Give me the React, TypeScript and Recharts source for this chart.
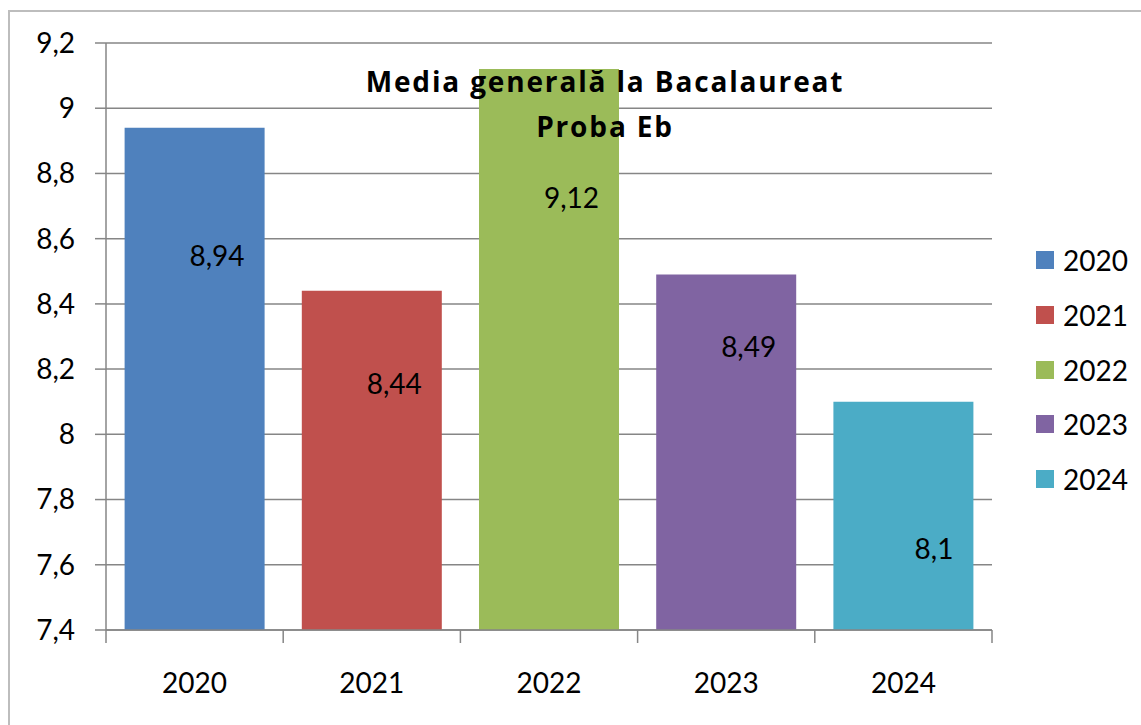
import React from 'react';
import { BarChart, Bar, XAxis, YAxis, CartesianGrid, Cell, LabelList } from 'recharts';

const years = ['2020', '2021', '2022', '2023', '2024'];
const averages = [8.94, 8.44, 9.12, 8.49, 8.1];
const yTicks = [7.4, 7.6, 7.8, 8, 8.2, 8.4, 8.6, 8.8, 9, 9.2];
const titleLines = ['Media generală la Bacalaureat', 'Proba Eb'];

const COLORS = ['#4F81BD', '#C0504D', '#9BBB59', '#8064A2', '#4BACC6'];
// label offsets from bar top (labels were placed by hand in the original)
const LABEL_DY = [127, 92, 128, 71, 146];

const FONT = 'Lato, "Open Sans", sans-serif';
const GRID = '#868686';
const W = 1141;
const H = 725;
const PLOT_LEFT = 106;
const PLOT_RIGHT = 992;
const BAND = (PLOT_RIGHT - PLOT_LEFT) / years.length;

const data = years.map((year, i) => ({ year, value: averages[i] }));

const fmt = (v: number) => String(v).replace('.', ',');

const XTick = (props: any) => {
  const { x, y, payload, index } = props;
  const left = x - BAND / 2;
  return (
    <g>
      <line x1={left} y1={y} x2={left} y2={y + 13} stroke={GRID} strokeWidth={1.5} />
      {index === years.length - 1 && (
        <line x1={x + BAND / 2} y1={y} x2={x + BAND / 2} y2={y + 13} stroke={GRID} strokeWidth={1.5} />
      )}
      <text x={x} y={y + 63} textAnchor="middle" fontSize={28} fontFamily={FONT} fill="#000">
        {payload.value}
      </text>
    </g>
  );
};

const ValueLabel = (props: any) => {
  const { x, y, width, value, index } = props;
  return (
    <text
      x={x + width - 20}
      y={y + LABEL_DY[index]}
      textAnchor="end"
      dominantBaseline="central"
      fontSize={28}
      fontFamily={FONT}
      fill="#000"
    >
      {fmt(value)}
    </text>
  );
};

export default function App() {
  return (
    <div style={{ position: 'absolute', left: 0, top: 0, width: W, height: H, background: '#fff', overflow: 'hidden' }}>
      <div
        style={{
          position: 'absolute',
          left: 8,
          top: 10,
          width: W,
          height: H,
          borderLeft: '2px solid #BDBDBD',
          borderTop: '2px solid #BDBDBD',
        }}
      />
      <div style={{ position: 'absolute', left: 0, top: 0 }}>
        <BarChart
          width={W}
          height={H}
          data={data}
          margin={{ top: 43, right: W - PLOT_RIGHT, bottom: 35, left: 0 }}
          barCategoryGap="10.5%"
        >
          <CartesianGrid vertical={false} stroke={GRID} strokeWidth={1.5} />
          <XAxis
            dataKey="year"
            height={60}
            axisLine={{ stroke: GRID, strokeWidth: 1.5 }}
            tickLine={false}
            tickSize={0}
            tickMargin={0}
            tick={<XTick />}
            interval={0}
          />
          <YAxis
            width={PLOT_LEFT}
            domain={[7.4, 9.2]}
            ticks={yTicks}
            interval={0}
            tickFormatter={fmt}
            tickSize={11}
            tickMargin={20}
            axisLine={{ stroke: GRID, strokeWidth: 1.5 }}
            tickLine={{ stroke: GRID, strokeWidth: 1.5 }}
            tick={{ fontSize: 28, fontFamily: FONT, fill: '#000' }}
          />
          <Bar dataKey="value" isAnimationActive={false}>
            {data.map((d, i) => (
              <Cell key={d.year} fill={COLORS[i]} />
            ))}
            <LabelList dataKey="value" content={<ValueLabel />} />
          </Bar>
        </BarChart>
      </div>
      <div
        style={{
          position: 'absolute',
          left: 405,
          width: 400,
          top: 59,
          textAlign: 'center',
          fontFamily: '"Open Sans", Lato, sans-serif',
          fontWeight: 700,
          fontSize: 28,
          letterSpacing: 1.85,
          lineHeight: '45px',
          color: '#000',
        }}
      >
        {titleLines.map((t) => (
          <div key={t} style={{ whiteSpace: 'nowrap', marginLeft: -100, marginRight: -100 }}>
            {t}
          </div>
        ))}
      </div>
      <div style={{ position: 'absolute', left: 1036, top: 233, fontFamily: FONT, fontSize: 28, color: '#000' }}>
        {years.map((y, i) => (
          <div key={y} style={{ display: 'flex', alignItems: 'center', height: 54.7 }}>
            <span style={{ width: 18, height: 18, background: COLORS[i], marginRight: 9, display: 'inline-block' }} />
            <span>{y}</span>
          </div>
        ))}
      </div>
    </div>
  );
}
